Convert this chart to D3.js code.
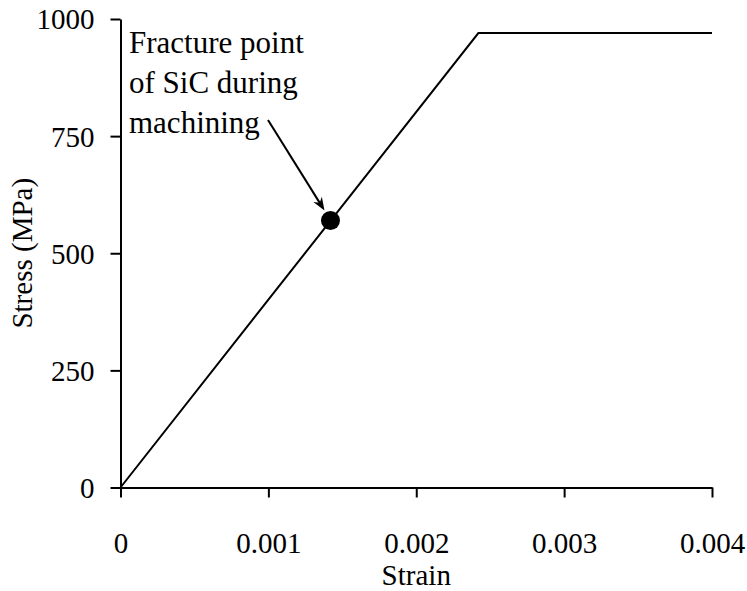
<!DOCTYPE html>
<html>
<head>
<meta charset="utf-8">
<script src="https://cdn.jsdelivr.net/npm/d3@7"></script>
</head>
<body style="margin:0">
<script>
var width = 747;
var height = 591;
var serif = 'serif';

// curve
var strain = [0, 0.00242, 0.004];
var stress = [0, 970, 970];

// fracture point marker
var fractureStrain = [0.00142];
var fractureStress = [570];

var xTicks = [0, 0.001, 0.002, 0.003, 0.004];
var xTickLabels = ['0', '0.001', '0.002', '0.003', '0.004'];
var yTicks = [0, 250, 500, 750, 1000];
var yTickLabels = ['0', '250', '500', '750', '1000'];

var noteLines = ['Fracture point', 'of SiC during', 'machining'];

var svg = d3.select('body').append('svg')
    .attr('width', width)
    .attr('height', height);

var x = d3.scaleLinear().domain([0, 0.004]).range([120.5, 712]);
var y = d3.scaleLinear().domain([0, 1000]).range([487.5, 19]);

// axes
var xAxis = svg.append('g')
    .attr('transform', 'translate(0,' + y(0) + ')')
    .call(d3.axisBottom(x).tickValues(xTicks)
      .tickFormat(function(d, i) { return xTickLabels[i]; })
      .tickSize(10).tickSizeOuter(0).tickPadding(35));

var yAxis = svg.append('g')
    .attr('transform', 'translate(' + x(0) + ',0)')
    .call(d3.axisLeft(y).tickValues(yTicks)
      .tickFormat(function(d, i) { return yTickLabels[i]; })
      .tickSize(10).tickSizeOuter(0).tickPadding(16));

xAxis.attr('font-family', null).attr('font-size', null);
yAxis.attr('font-family', null).attr('font-size', null);
svg.selectAll('.domain, .tick line')
    .attr('stroke', '#000')
    .attr('stroke-width', 2);
svg.selectAll('.tick text')
    .attr('fill', '#000')
    .attr('font-family', serif)
    .attr('font-size', 29);
yAxis.selectAll('.tick text').attr('dy', '0.34em');

// axis titles
svg.append('text')
    .attr('x', x(0.002))
    .attr('y', 585)
    .attr('text-anchor', 'middle')
    .attr('font-family', serif)
    .attr('font-size', 29)
    .text('Strain');

svg.append('text')
    .attr('transform', 'translate(32,' + y(500) + ') rotate(-90)')
    .attr('text-anchor', 'middle')
    .attr('font-family', serif)
    .attr('font-size', 29)
    .text('Stress (MPa)');

// stress-strain line
var line = d3.line()
    .x(function(d) { return x(d[0]); })
    .y(function(d) { return y(d[1]); });

svg.append('path')
    .datum(d3.zip(strain, stress))
    .attr('d', line)
    .attr('fill', 'none')
    .attr('stroke', '#000')
    .attr('stroke-width', 2);

// annotation text
noteLines.forEach(function(d, i) {
  svg.append('text')
      .attr('x', 129)
      .attr('y', 53 + i * 40)
      .attr('font-family', serif)
      .attr('font-size', 31)
      .text(d);
});

// arrow, head drawn as its own path
var fx = x(fractureStrain[0]);
var fy = y(fractureStress[0]);
var x0 = 268, y0 = 120;
var tx = fx - 6, ty = fy - 10;
var ang = Math.atan2(ty - y0, tx - x0);
var hl = 13, hw = 5;

svg.append('line')
    .attr('x1', x0).attr('y1', y0)
    .attr('x2', tx - Math.cos(ang) * 6).attr('y2', ty - Math.sin(ang) * 6)
    .attr('stroke', '#000')
    .attr('stroke-width', 2);

svg.append('path')
    .attr('d', 'M' + tx + ',' + ty +
      'L' + (tx - hl * Math.cos(ang) + hw * Math.sin(ang)) + ',' + (ty - hl * Math.sin(ang) - hw * Math.cos(ang)) +
      'L' + (tx - 9 * Math.cos(ang)) + ',' + (ty - 9 * Math.sin(ang)) +
      'L' + (tx - hl * Math.cos(ang) - hw * Math.sin(ang)) + ',' + (ty - hl * Math.sin(ang) + hw * Math.cos(ang)) + 'Z')
    .attr('fill', '#000');

// fracture point
svg.selectAll('circle')
    .data(d3.zip(fractureStrain, fractureStress))
    .enter().append('circle')
    .attr('cx', function(d) { return x(d[0]); })
    .attr('cy', function(d) { return y(d[1]); })
    .attr('r', 9.5)
    .attr('fill', '#000');
</script>
</body>
</html>
